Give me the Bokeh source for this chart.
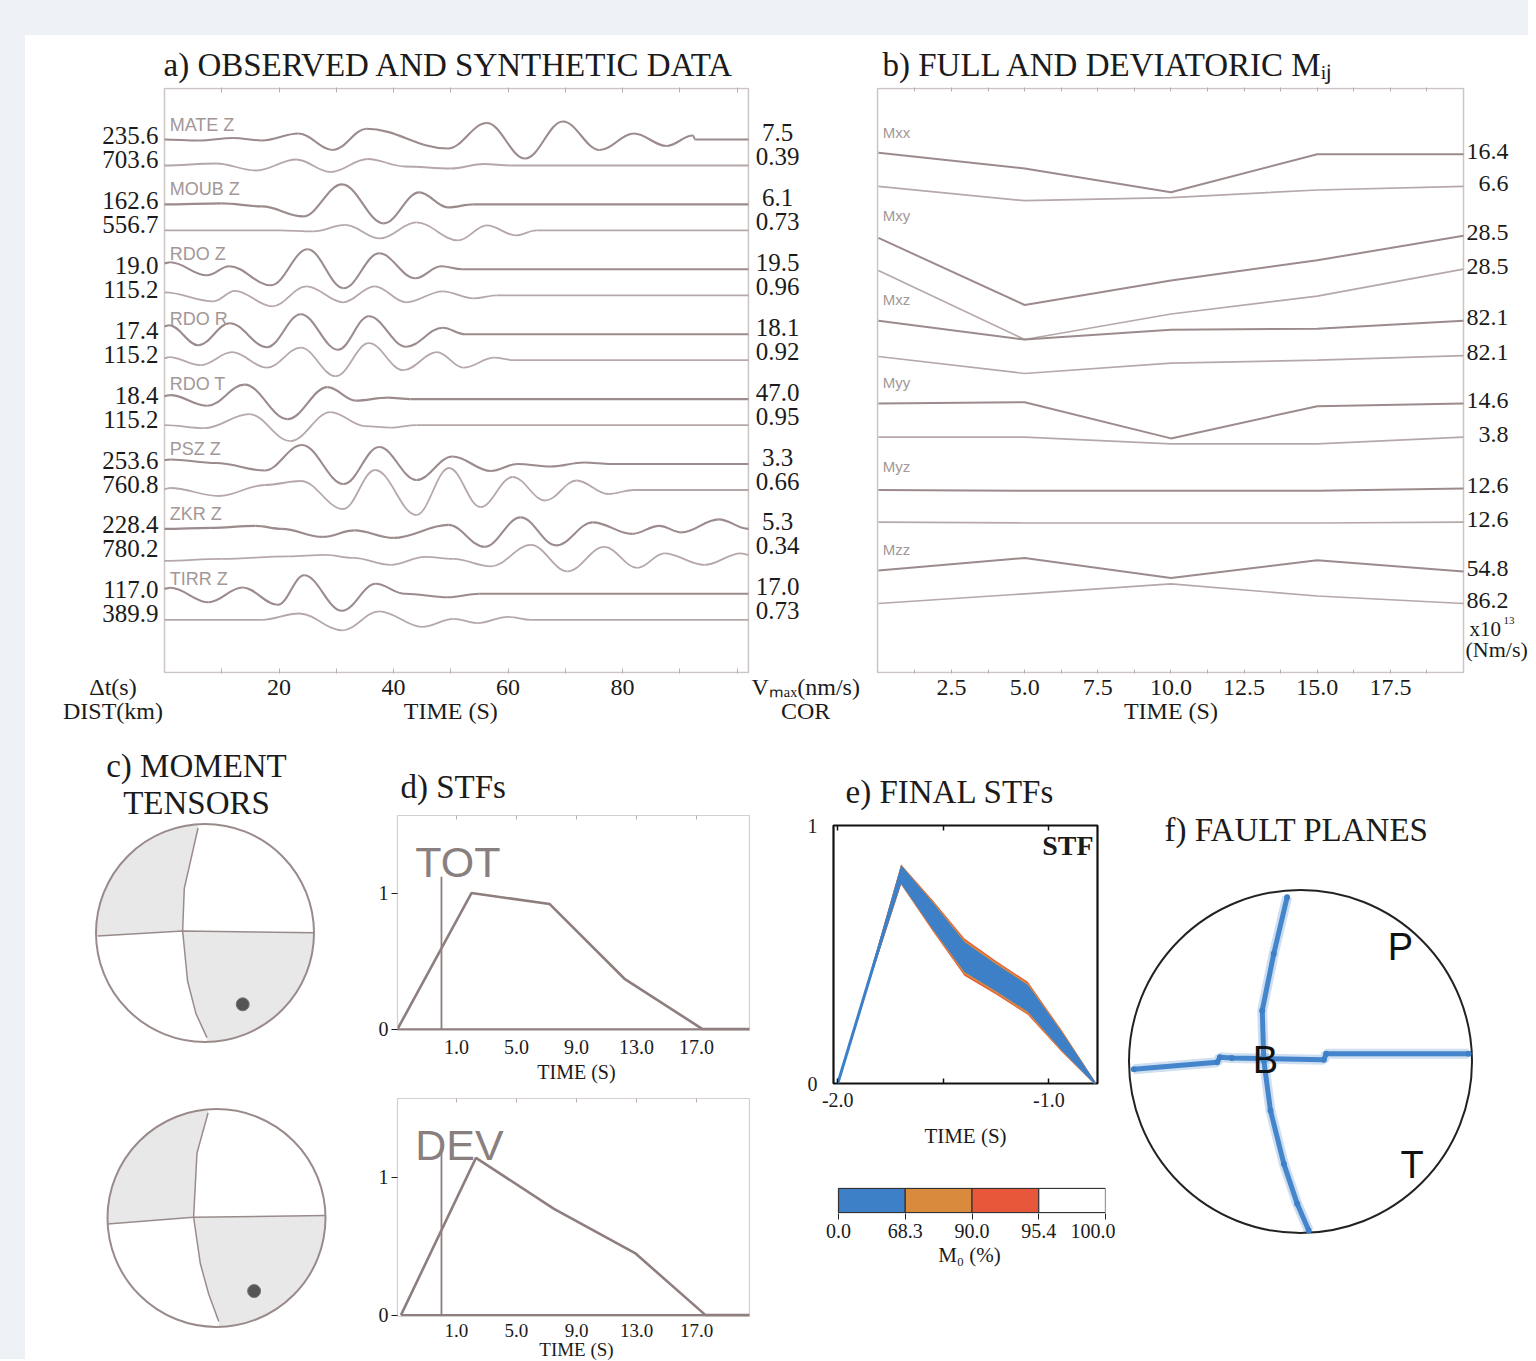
import numpy as np
from bokeh.plotting import figure
from bokeh.models import (ColumnDataSource, Range1d, LinearAxis, FixedTicker, Label,
                          NumeralTickFormatter, Title, Spacer)
from bokeh.layouts import row, column
from bokeh.embed import file_html
from bokeh.resources import INLINE

SERIF = "Liberation Serif"
SANS = "Liberation Sans"
INK = "#1b1b1b"
FRAME = "#cdc4c4"
OBS = "#9c8b8c"
SYN = "#b6a8a9"
GREY_TXT = "#a39797"
BLUE = "#3d80c8"
ORANGE = "#d98a3d"
RED = "#e8573a"
PAGE_BG = "#edf1f6"

# ---------------- a) observed and synthetic data ----------------
STATIONS = ["MATE Z", "MOUB Z", "RDO  Z", "RDO  R", "RDO  T", "PSZ  Z", "ZKR  Z", "TIRR Z"]
DT_S = ["235.6", "162.6", "19.0", "17.4", "18.4", "253.6", "228.4", "117.0"]
DIST_KM = ["703.6", "556.7", "115.2", "115.2", "115.2", "760.8", "780.2", "389.9"]
VMAX = ["7.5", "6.1", "19.5", "18.1", "47.0", "3.3", "5.3", "17.0"]
COR = ["0.39", "0.73", "0.96", "0.92", "0.95", "0.66", "0.34", "0.73"]
TIME_TICKS_A = [20, 40, 60, 80]

MATE_OBS_T = [0, 6, 12, 17, 23.4, 29.4, 35.3, 49.5, 56.3, 63, 69.6, 76, 82, 87.7, 92.3, 92.7, 102]
MATE_OBS_A = [0, -1, 1.5, -1, 6, -10.5, 10.7, -9, 16.5, -19, 18, -10.5, 6, -6.5, 4, 0, 0]
MATE_SYN_T = [0, 9, 16, 23, 29, 35.5, 42, 50, 55.8, 60.5, 102]
MATE_SYN_A = [0, 2, -5, 6, -6.5, 6.5, -1, -3, 1.5, 0, 0]
MOUB_OBS_T = [0, 10, 17, 24.2, 31, 38.3, 44.5, 49.5, 54, 102]
MOUB_OBS_A = [0, 1, -2, -12, 20, -19, 12, -3, 0, 0]
MOUB_SYN_T = [0, 20, 26, 31.6, 37.6, 44, 51.3, 56.3, 61.4, 65, 102]
MOUB_SYN_A = [0, 0, -1, 5.5, -8, 8, -10, 5, -5, 0, 0]
RDOZ_OBS_T = [0, 1, 7.4, 11.3, 18.6, 25, 31.3, 37.5, 43.8, 48.3, 52, 102]
RDOZ_OBS_A = [6, 7, -6, 3, -16, 20, -19, 16, -9, 3, 0, 0]
RDOZ_SYN_T = [0, 8.6, 12.3, 18.8, 24.8, 31.2, 36.7, 42.2, 48.6, 54, 58, 102]
RDOZ_SYN_A = [3, -6, 4.5, -11, 9, -7, 9, -7, 4, -3, 0, 0]
RDOR_OBS_T = [0, 0.8, 5.9, 11.4, 17.9, 23.8, 30.3, 35.7, 42.2, 48.6, 52.5, 102]
RDOR_OBS_A = [8, 9, -11, 11, -13, 20, -15.5, 18, -12.5, 6.5, 0, 0]
RDOR_SYN_T = [0, 0.8, 6.3, 11.8, 17.9, 23.8, 29.9, 35.7, 41.7, 47.6, 52.2, 57.6, 61, 102]
RDOR_SYN_A = [2, 3, -5, 8, -7.5, 12.5, -16, 17, -10, 8, -7.5, 2.5, 0, 0]
RDOT_OBS_T = [0, 1, 7.5, 14, 21.5, 28.5, 33.4, 39, 43, 102]
RDOT_OBS_A = [3, 4, -6.7, 14.5, -20, 12, -1.5, 1.5, 0, 0]
RDOT_SYN_T = [0, 7, 14.8, 22, 29, 35, 39.5, 44, 102]
RDOT_SYN_A = [0, -3, 11, -16, 13, -1, -2.5, 0, 0]
PSZ_OBS_T = [0, 1, 9, 17.5, 24, 31.3, 37.5, 44, 50.3, 57, 61.6, 67.5, 73.3, 78, 102]
PSZ_OBS_A = [4, 4.5, 1, -6.5, 19, -20, 17, -16, 7.5, -7, 0, -2.5, 1.5, 0, 0]
PSZ_SYN_T = [0, 1, 9.5, 17.5, 23.8, 31.2, 36.8, 44, 49.7, 55.2, 60.8, 66.5, 72, 77.5, 82, 102]
PSZ_SYN_A = [1, 2, -6, 5, 9, -19, 20, -25, 22, -17, 13, -10.5, 9.5, -4, 0, 0]
ZKR_OBS_T = [0, 8, 15.9, 20.5, 27.6, 33.2, 40, 49.6, 55.9, 62.2, 68.4, 74.8, 81.7, 86.4, 90.3, 96.8, 102]
ZKR_OBS_A = [0, 1, 3, 0, -8, -1.5, -9, 4, -18, 11.5, -16.5, 6.5, -5, 3, -3.5, 9.5, 0]
ZKR_SYN_T = [0, 10, 21.7, 28, 33, 39.5, 45.5, 50.5, 57, 64, 70.4, 76.8, 82.6, 87.3, 94.3, 100.7, 102]
ZKR_SYN_A = [-6, -4, -1.5, 0, -3, -10, -2, -4, -11.5, 10, -16.5, 8, -13, 1.5, -10, 1.5, 0]
TIRR_OBS_T = [0, 1, 7.7, 13.6, 19.8, 24.4, 31, 36.9, 42, 49.5, 55, 102]
TIRR_OBS_A = [5, 6, -8.5, 6.3, -11, 18.5, -17, 10, 0, -3.5, 0, 0]
TIRR_SYN_T = [0, 17, 23.5, 31.1, 37.5, 45, 50.5, 54.7, 60, 64, 102]
TIRR_SYN_A = [0, 0, 6.3, -10.5, 8.5, -7, 1, -3.3, 3, 0, 0]

OBS_T = [MATE_OBS_T, MOUB_OBS_T, RDOZ_OBS_T, RDOR_OBS_T, RDOT_OBS_T, PSZ_OBS_T, ZKR_OBS_T, TIRR_OBS_T]
OBS_A = [MATE_OBS_A, MOUB_OBS_A, RDOZ_OBS_A, RDOR_OBS_A, RDOT_OBS_A, PSZ_OBS_A, ZKR_OBS_A, TIRR_OBS_A]
SYN_T = [MATE_SYN_T, MOUB_SYN_T, RDOZ_SYN_T, RDOR_SYN_T, RDOT_SYN_T, PSZ_SYN_T, ZKR_SYN_T, TIRR_SYN_T]
SYN_A = [MATE_SYN_A, MOUB_SYN_A, RDOZ_SYN_A, RDOR_SYN_A, RDOT_SYN_A, PSZ_SYN_A, ZKR_SYN_A, TIRR_SYN_A]

# ---------------- b) full and deviatoric Mij ----------------
MIJ_NAMES = ["Mxx", "Mxy", "Mxz", "Myy", "Myz", "Mzz"]
MIJ_T = [0, 5, 10, 15, 20]
MXX_FULL = [0.2, -15.5, -39.2, -1.2, -1.2]
MXX_DEV = [0.1, -14.2, -11.1, -3.5, 0.1]
MXY_FULL = [-1.4, -68.5, -43.9, -23.8, 0.8]
MXY_DEV = [-0.6, -69.5, -44.0, -26.1, 0.8]
MXZ_FULL = [-0.7, -19.5, -9.7, -8.8, -0.7]
MXZ_DEV = [-3.0, -20.0, -9.7, -6.6, -2.1]
MYY_FULL = [0.0, 1.3, -34.9, -2.7, 0.0]
MYY_DEV = [-0.1, -0.1, -6.8, -6.8, -0.1]
MYZ_FULL = [-2.9, -3.8, -3.8, -3.8, -1.6]
MYZ_DEV = [-1.6, -2.5, -2.5, -2.5, -1.6]
MZZ_FULL = [0.0, 12.6, -7.6, 10.3, -0.9]
MZZ_DEV = [0.5, 10.2, 20.1, 8.0, 0.5]
FULL_MAX = ["16.4", "28.5", "82.1", "14.6", "12.6", "54.8"]
DEV_MAX = ["6.6", "28.5", "82.1", "3.8", "12.6", "86.2"]
TIME_TICKS_B = [2.5, 5.0, 7.5, 10.0, 12.5, 15.0, 17.5]
FULL_SERIES = [MXX_FULL, MXY_FULL, MXZ_FULL, MYY_FULL, MYZ_FULL, MZZ_FULL]
DEV_SERIES = [MXX_DEV, MXY_DEV, MXZ_DEV, MYY_DEV, MYZ_DEV, MZZ_DEV]

# ---------------- c) moment tensors (nodal lines, unit circle) ----------------
MT1_VX = [-0.064, -0.19, -0.205, -0.16, -0.083, 0.018]
MT1_VY = [0.963, 0.41, 0.018, -0.44, -0.74, -0.96]
MT1_HX = [-0.985, -0.205, 1.0]
MT1_HY = [-0.028, 0.018, 0.003]
MT1_DOT = (0.346, -0.654)
MT2_VX = [-0.077, -0.179, -0.21, -0.148, -0.071, 0.021]
MT2_VY = [0.965, 0.597, 0.007, -0.42, -0.70, -0.95]
MT2_HX = [-1.0, -0.21, 1.0]
MT2_HY = [-0.054, 0.007, 0.023]
MT2_DOT = (0.345, -0.67)

# ---------------- d) STFs ----------------
TOT_T = [-2.93, 2.0, 7.2, 12.2, 17.4, 20.53]
TOT_V = [0, 1.0, 0.92, 0.37, 0, 0]
DEV_T = [-2.7, 2.3, 7.5, 12.9, 17.6, 20.53]
DEV_V = [0, 1.14, 0.77, 0.45, 0, 0]
ORIGIN_T = 0.0
TOT_MARK = 1.12
DEV_MARK = 1.2
STF_TICKS = [1, 5, 9, 13, 17]

# ---------------- e) final STFs ----------------
FSTF_T = [-2.0, -1.85, -1.70, -1.55, -1.40, -1.25, -1.10, -0.94, -0.78]
FSTF_C = [0.0, 0.405, 0.81, 0.65, 0.49, 0.41, 0.33, 0.165, 0.0]
FSTF_HW68 = [0.006, 0.012, 0.036, 0.052, 0.058, 0.052, 0.052, 0.036, 0.006]
FSTF_HW90 = [0.006, 0.012, 0.038, 0.057, 0.066, 0.06, 0.06, 0.04, 0.006]
FSTF_HW95 = [0.006, 0.012, 0.039, 0.06, 0.072, 0.065, 0.064, 0.042, 0.006]
CB_LABELS = ["0.0", "68.3", "90.0", "95.4", "100.0"]
CB_COLORS = [BLUE, ORANGE, RED, "#ffffff"]

# ---------------- f) fault planes ----------------
FP_VX = [-0.078, -0.156, -0.223, -0.214, -0.175, -0.097, -0.019, 0.048]
FP_VY = [0.958, 0.628, 0.297, 0.006, -0.286, -0.597, -0.83, -0.985]
FP_HX = [-0.972, -0.486, -0.47, -0.40, 0.136, 0.15, 0.98]
FP_HY = [-0.045, -0.004, 0.025, 0.02, 0.01, 0.045, 0.045]
AXES_NAMES = ["P", "T", "B"]
AXES_X = [0.583, 0.651, -0.204]
AXES_Y = [0.666, -0.606, 0.006]


# ================= helpers =================
def base_fig(fw, fh, xr, yr, left=0, right=0, top=0, bottom=0, outline=None, ow=1.5):
    p = figure(frame_width=fw, frame_height=fh, x_range=Range1d(*xr), y_range=Range1d(*yr),
               min_border_left=left, min_border_right=right, min_border_top=top,
               min_border_bottom=bottom, toolbar_location=None, output_backend="svg",
               x_axis_location=None, y_axis_location=None, tools="")
    p.xgrid.visible = False
    p.ygrid.visible = False
    p.outline_line_color = outline
    p.outline_line_width = ow
    p.background_fill_color = "white"
    p.border_fill_color = "white"
    return p


def add_axis(p, side, ticks, minor=None, fmt=None, size="21px", tin=0, tout=0, minin=0,
             standoff=5, label=None, lsize="22px", lstand=4, tcolor="#b8aeae",
             overrides=None, twidth=1, lh=1.2):
    ax = LinearAxis(ticker=FixedTicker(ticks=ticks, minor_ticks=minor or []))
    ax.axis_line_color = None
    ax.major_tick_in = tin
    ax.major_tick_out = tout
    ax.minor_tick_in = minin
    ax.minor_tick_out = 0
    ax.major_tick_line_color = tcolor
    ax.minor_tick_line_color = tcolor
    ax.major_tick_line_width = twidth
    ax.minor_tick_line_width = twidth
    ax.major_label_text_font = SERIF
    ax.major_label_text_font_size = size
    ax.major_label_text_color = INK
    ax.major_label_text_line_height = lh
    ax.major_label_standoff = standoff
    if fmt:
        ax.formatter = NumeralTickFormatter(format=fmt)
    if overrides:
        ax.major_label_overrides = overrides
    if label:
        ax.axis_label = label
        ax.axis_label_text_font = SERIF
        ax.axis_label_text_font_size = lsize
        ax.axis_label_text_font_style = "normal"
        ax.axis_label_text_color = INK
        ax.axis_label_standoff = lstand
    p.add_layout(ax, side)
    return ax


def tick_marks(p, side, minor, length, color="#b8aeae", width=1):
    # an axis that carries only (minor) tick marks and no labels
    ax = LinearAxis(ticker=FixedTicker(ticks=[], minor_ticks=minor))
    ax.axis_line_color = None
    ax.minor_tick_in = length
    ax.minor_tick_out = 0
    ax.minor_tick_line_color = color
    ax.minor_tick_line_width = width
    ax.major_label_standoff = 0
    p.add_layout(ax, side)


def title(p, text, offset, standoff, size="33px"):
    p.add_layout(Title(text=text, align="left", offset=offset, standoff=standoff,
                       text_font=SERIF, text_font_size=size, text_font_style="normal",
                       text_color=INK), "above")


def txt(p, x, y, s, size, font=SERIF, color=INK, align="left", baseline="middle", style="normal"):
    p.add_layout(Label(x=x, y=y, text=s, text_font=font, text_font_size=size, text_color=color,
                       text_align=align, text_baseline=baseline, text_font_style=style))


def wave(p, t, a, base, color, width, k=0.37):
    t = np.asarray(t, float)
    y = base + np.asarray(a, float)
    dx = np.diff(t)
    src = ColumnDataSource(dict(x0=t[:-1], y0=y[:-1], x1=t[1:], y1=y[1:],
                                cx0=t[:-1] + k * dx, cy0=y[:-1], cx1=t[1:] - k * dx, cy1=y[1:]))
    p.bezier(x0="x0", y0="y0", x1="x1", y1="y1", cx0="cx0", cy0="cy0", cx1="cx1", cy1="cy1",
             source=src, line_color=color, line_width=width)


# ================= a) =================
ta = lambda px: (px - 164) / 5.725
ya = lambda py: 672 - py
pa = base_fig(810, 586, (ta(58), ta(868)), (-1, 585), left=33, top=52, bottom=67)
pa.quad(left=0, right=102, bottom=0, top=584, fill_color=None, line_color=FRAME, line_width=1.5)
a_ticks = [-9] + TIME_TICKS_A + [50, 112]
a_over = {-9: "\u0394t(s)\nDIST(km)", 50: " \nTIME (S)", 112: "V\u2098\u2090\u2093(nm/s)\nCOR"}
add_axis(pa, "below", a_ticks, minor=[10, 20, 30, 40, 50, 60, 70, 80, 90, 100], minin=5,
         size="24px", standoff=0, overrides=a_over, lh=0.95)
tick_marks(pa, "above", [10, 20, 30, 40, 50, 60, 70, 80, 90, 100], 5)
title(pa, "a) OBSERVED AND SYNTHETIC DATA", offset=105, standoff=9)

TOP_BASE, SPACING, GAP = 533.0, 64.9, 26.0
for i in range(len(STATIONS)):
    ob = TOP_BASE - SPACING * i
    sb = ob - GAP
    wave(pa, SYN_T[i], SYN_A[i], sb, SYN, 1.8)
    wave(pa, OBS_T[i], OBS_A[i], ob, OBS, 2.1)
    txt(pa, 0.9, ob + 15, STATIONS[i], "18px", font=SANS, color=GREY_TXT)
    txt(pa, ta(158), ob + 4, DT_S[i], "25px", align="right")
    txt(pa, ta(158), sb + 6, DIST_KM[i], "25px", align="right")
    txt(pa, ta(777), ob + 7, VMAX[i], "25px", align="center")
    txt(pa, ta(777), sb + 9, COR[i], "25px", align="center")

# ================= b) =================
tb = lambda px: (px - 877.9) / 29.256
pb = base_fig(660, 586, (tb(868), tb(1528)), (-1, 585), top=52, bottom=67)
pb.quad(left=-0.03, right=20.0, bottom=0, top=584, fill_color=None, line_color=FRAME, line_width=1.5)
b_minor = [1.25, 2.5, 3.75, 5.0, 6.25, 7.5, 8.75, 10.0, 11.25, 12.5, 13.75, 15.0, 16.25, 17.5, 18.75]
add_axis(pb, "below", TIME_TICKS_B, minor=b_minor, fmt="0.0", minin=4, size="24px", standoff=0,
         overrides={10: "10.0\nTIME (S)"}, lh=0.95)
tick_marks(pb, "above", b_minor, 4)
title(pb, "b) FULL AND DEVIATORIC M\u1d62\u2c7c", offset=14, standoff=9)
FB0, FBS, FBG = 152.5, 83.5, 33.5
for i, name in enumerate(MIJ_NAMES):
    fy = ya(FB0 + FBS * i)
    dy = fy - FBG
    full = fy + np.asarray(FULL_SERIES[i])
    dev = dy + np.asarray(DEV_SERIES[i])
    pb.line(MIJ_T, dev, line_color=SYN, line_width=1.7)
    pb.line(MIJ_T, full, line_color=OBS, line_width=2.0)
    txt(pb, 0.15, fy + 21, name, "15px", font=SANS, color=GREY_TXT)
    txt(pb, tb(1508), full[-1] + 3, FULL_MAX[i], "24px", align="right")
    txt(pb, tb(1508), dev[-1] + 3, DEV_MAX[i], "24px", align="right")
txt(pb, tb(1469), ya(628), "x10", "21px")
txt(pb, tb(1503), ya(620), "13", "11px")
txt(pb, tb(1465), ya(649), "(Nm/s)", "22px")


# ================= c) =================
def ball(p, vx, vy, hx, hy, dot, kv=2, kh=1):
    vx, vy, hx, hy = map(lambda v: np.asarray(v, float), (vx, vy, hx, hy))

    def arc(a0, a1):
        if a1 < a0:
            a1 += 2 * np.pi
        th = np.linspace(a0, a1, 80)
        return np.cos(th), np.sin(th)

    ax1, ay1 = arc(np.arctan2(vy[0], vx[0]), np.arctan2(hy[0], hx[0]))
    ulx = np.concatenate([vx[kv::-1], ax1, hx[:kh + 1]])
    uly = np.concatenate([vy[kv::-1], ay1, hy[:kh + 1]])
    ax2, ay2 = arc(np.arctan2(vy[-1], vx[-1]), np.arctan2(hy[-1], hx[-1]))
    lrx = np.concatenate([vx[kv:], ax2, hx[kh:][::-1]])
    lry = np.concatenate([vy[kv:], ay2, hy[kh:][::-1]])
    p.patch(ulx, uly, fill_color="#e8e8e8", line_color=None)
    p.patch(lrx, lry, fill_color="#e8e8e8", line_color=None)
    p.line(vx, vy, line_color="#9a8b8b", line_width=1.5)
    p.line(hx, hy, line_color="#9a8b8b", line_width=1.5)
    p.ellipse(x=0, y=0, width=2, height=2, fill_color=None, line_color="#9a8b8b", line_width=2)
    p.scatter([dot[0]], [dot[1]], size=13, fill_color="#555555", line_color="#777777")


S_C = 109.0
pc1 = base_fig(315, 330, ((25 - 204.5) / S_C, (340 - 204.5) / S_C), ((932.5 - 1070) / S_C, (932.5 - 740) / S_C))
pc2 = base_fig(315, 281, ((25 - 216) / S_C, (340 - 216) / S_C), ((1217.5 - 1351) / S_C, (1217.5 - 1070) / S_C))
ball(pc1, MT1_VX, MT1_VY, MT1_HX, MT1_HY, MT1_DOT)
ball(pc2, MT2_VX, MT2_VY, MT2_HX, MT2_HY, MT2_DOT)
txt(pc1, (196 - 204.5) / S_C, (932.5 - 765) / S_C, "c) MOMENT", "33px", align="center")
txt(pc1, (196 - 204.5) / S_C, (932.5 - 802) / S_C, "TENSORS", "33px", align="center")

# ================= d) =================
STF_COL = "#8e7e7e"


def stf_panel(fh, top, bottom, t, v, mark, name, tsize, lh, stand):
    p = base_fig(352, fh, (-2.93, 20.53), (-0.01, 1.57), 57, 21, top, bottom, "#d6cfcf", 1.2)
    add_axis(p, "left", [0, 1], tout=6, standoff=3, size="20px", tcolor=INK)
    tick_marks(p, "above", STF_TICKS, 4)
    add_axis(p, "below", STF_TICKS, fmt="0.0", size=tsize, standoff=stand,
             overrides={9: "9.0\nTIME (S)"}, lh=lh)
    p.line([t[0], t[-1]], [0, 0], line_color=STF_COL, line_width=2)
    p.line(t, v, line_color=STF_COL, line_width=2.6)
    p.line([ORIGIN_T, ORIGIN_T], [0, mark], line_color=STF_COL, line_width=1.8)
    txt(p, -1.75, 1.23, name, "43px", font=SANS, color="#8a7f7f")
    return p


pd1 = stf_panel(215, 75, 55, TOT_T, TOT_V, TOT_MARK, "TOT", "20px", 1.15, 5)
title(pd1, "d) STFs", offset=3, standoff=21)
pd2 = stf_panel(218, 13, 43, DEV_T, DEV_V, DEV_MARK, "DEV", "19px", 0.95, 3)

# ================= e) =================
pe = base_fig(264, 258, (-2.02, -0.77), (0, 1), 63, 18, 85, 77, "#111111", 2.2)
add_axis(pe, "left", [0, 1], standoff=16, size="20px")
add_axis(pe, "below", [-2.0, -1.0], minor=[-1.5], fmt="0.0", tin=5, minin=5, size="20px",
         standoff=9, tcolor="#111111", twidth=1.5, label="TIME (S)", lsize="21px", lstand=14)
tick_marks(pe, "above", [-2.0, -1.5, -1.0], 5, color="#111111", width=1.5)
title(pe, "e) FINAL STFs", offset=12, standoff=32)
c = np.asarray(FSTF_C)
pe.varea(FSTF_T, c - np.asarray(FSTF_HW95), c + np.asarray(FSTF_HW95), fill_color=RED)
pe.varea(FSTF_T, c - np.asarray(FSTF_HW90), c + np.asarray(FSTF_HW90), fill_color=ORANGE)
pe.varea(FSTF_T, c - np.asarray(FSTF_HW68), c + np.asarray(FSTF_HW68), fill_color=BLUE)
pe.line(FSTF_T[:3], FSTF_C[:3], line_color=BLUE, line_width=3)
ex = lambda px: -2.02 + (px - 833) / 211.2
ey = lambda py: (1083 - py) / 258
txt(pe, ex(1093), ey(845), "STF", "28px", align="right", style="bold")

# colour bar: same left border as the STF panel so both frames line up;
# the bar itself starts 5 px inside its frame
CB_PX = 267 / 4.0
pcb = base_fig(272, 26, (-5 / CB_PX, 4.0), (-0.04, 1.04), 63, 10, 27, 137)
pcb.quad(left=[0, 1, 2, 3], right=[1, 2, 3, 4], bottom=0, top=1, fill_color=CB_COLORS,
         line_color="#333333", line_width=1.2)
add_axis(pcb, "below", [0, 1, 2, 3, 4], tout=6, standoff=4, size="20px", tcolor="#222222",
         overrides={i: s for i, s in enumerate(CB_LABELS)}, label="M\u2080 (%)", lsize="21px",
         lstand=2)

# ================= f) =================
S_F = 171.5
pf = base_fig(413, 611, ((1115 - 1300) / S_F, (1528 - 1300) / S_F), ((1061 - 1351) / S_F, (1061 - 740) / S_F))
pf.ellipse(x=0, y=0, width=2, height=2, fill_color=None, line_color="#222222", line_width=2)
for xs, ys in ((FP_VX, FP_VY), (FP_HX, FP_HY)):
    pf.line(xs, ys, line_color=BLUE, line_width=10, line_alpha=0.25)
    pf.line(xs, ys, line_color=BLUE, line_width=5, line_alpha=0.95)
    pf.scatter(xs, ys, size=6, fill_color=BLUE, line_color=None)
for nm, x, y in zip(AXES_NAMES, AXES_X, AXES_Y):
    txt(pf, x, y, nm, "38px", font=SANS, color="#111111", align="center")
txt(pf, (1296 - 1300) / S_F, (1061 - 829) / S_F, "f) FAULT PLANES", "33px", align="center")

content = column(
    Spacer(width=1503, height=35, styles={"background-color": PAGE_BG}),
    row(pa, pb),
    row(column(pc1, pc2), column(pd1, pd2), column(pe, pcb), pf),
)
layout = row(Spacer(width=25, height=1359, styles={"background-color": PAGE_BG}), content)

open("out.html", "w").write(file_html(layout, INLINE, "Moment tensor inversion"))
